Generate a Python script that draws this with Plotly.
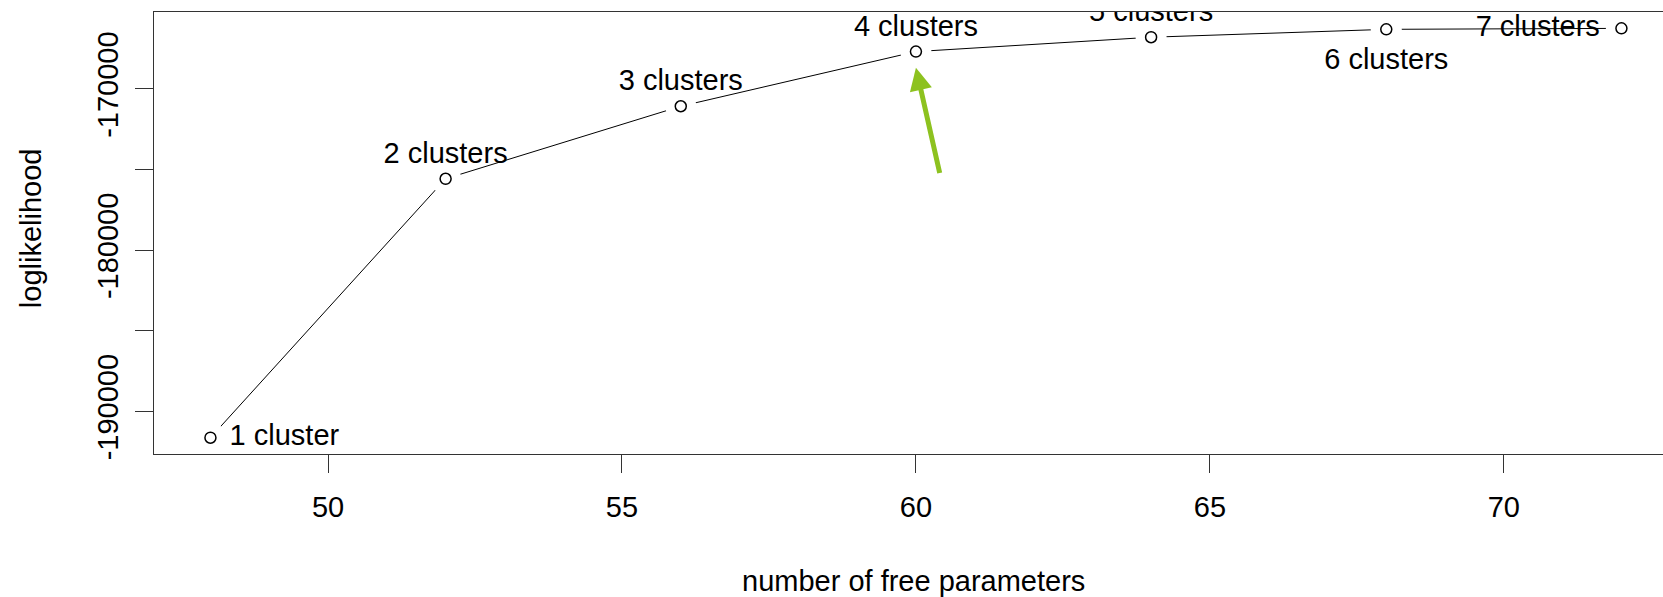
import plotly.graph_objects as go

# Model-selection curve: log-likelihood against model size
n_params = [48, 52, 56, 60, 64, 68, 72]
loglik = [-191630, -175570, -171070, -167680, -166790, -166300, -166240]
labels = ["1 cluster", "2 clusters", "3 clusters", "4 clusters",
          "5 clusters", "6 clusters", "7 clusters"]
label_side = ["right", "top", "top", "top", "top", "bottom", "left"]

x_ticks = [50, 55, 60, 65, 70]
y_ticks = [-190000, -185000, -180000, -175000, -170000]
y_tick_text = ["-190000", "", "-180000", "", "-170000"]

FONT = "Liberation Sans, Arial, sans-serif"
FS = 29
AXIS_COL = "#333333"

# padding around each point so labels sit clear of the circle
side_style = {
    "top": ("top center", 12.5),
    "bottom": ("bottom center", 27),
    "right": ("middle right", 29),
    "left": ("middle left", 33),
}

fig = go.Figure()

# connecting line
fig.add_trace(go.Scatter(
    x=n_params, y=loglik, mode="lines",
    line=dict(color="black", width=1), hoverinfo="skip", showlegend=False,
))
# white halo that breaks the line around each point (type="b" look)
fig.add_trace(go.Scatter(
    x=n_params, y=loglik, mode="markers",
    marker=dict(size=31, color="white", line=dict(width=0)),
    hoverinfo="skip", showlegend=False,
))
# open circles
fig.add_trace(go.Scatter(
    x=n_params, y=loglik, mode="markers",
    marker=dict(size=11, color="white", line=dict(color="black", width=1.5)),
    showlegend=False,
))

# point labels, one trace per placement; clipped to the plotting region
for side, (tpos, pad) in side_style.items():
    idx = [i for i, s in enumerate(label_side) if s == side]
    if not idx:
        continue
    fig.add_trace(go.Scatter(
        x=[n_params[i] for i in idx],
        y=[loglik[i] for i in idx],
        text=[labels[i] for i in idx],
        mode="markers+text",
        textposition=tpos,
        marker=dict(size=pad, color="rgba(0,0,0,0)"),
        textfont=dict(family=FONT, size=FS, color="black"),
        cliponaxis=True, hoverinfo="skip", showlegend=False,
    ))

# green pointer at the 4-cluster solution
fig.add_annotation(
    x=60, y=-168683, xref="x", yref="y",
    ax=60.41, ay=-175300, axref="x", ayref="y",
    text="", showarrow=True, arrowhead=2, arrowsize=0.9,
    arrowwidth=5, arrowcolor="#8DC21F", standoff=0,
)

# axis titles
fig.add_annotation(
    text="number of free parameters", xref="paper", yref="paper",
    x=0.5036, y=-0.2873, xanchor="center", yanchor="middle", showarrow=False,
    font=dict(family=FONT, size=FS, color="black"),
)
fig.add_annotation(
    text="loglikelihood", xref="paper", yref="paper",
    x=-0.0815, y=0.511, xanchor="center", yanchor="middle", showarrow=False,
    textangle=-90, font=dict(family=FONT, size=FS, color="black"),
)

fig.update_xaxes(
    range=[47.04, 72.707], tickvals=x_ticks, ticktext=[str(v) for v in x_ticks],
    showgrid=False, zeroline=False,
    showline=True, linecolor=AXIS_COL, linewidth=1.2, mirror=True,
    ticks="outside", ticklen=18, tickwidth=1.2, tickcolor=AXIS_COL,
    ticklabelstandoff=9,
    tickfont=dict(family=FONT, size=FS, color="black"),
)
fig.update_yaxes(
    range=[-192640, -165225], tickvals=y_ticks, ticktext=y_tick_text,
    showgrid=False, zeroline=False,
    showline=True, linecolor=AXIS_COL, linewidth=1.2, mirror=False,
    ticks="outside", ticklen=18, tickwidth=1.2, tickcolor=AXIS_COL,
    tickangle=-90, ticklabelstandoff=5,
    tickfont=dict(family=FONT, size=FS, color="black"),
)

fig.update_layout(
    width=1663, height=597, autosize=False,
    margin=dict(l=154, r=0, t=12, b=143, pad=0),
    plot_bgcolor="white", paper_bgcolor="white",
    showlegend=False,
)

fig.write_html("out.html")
